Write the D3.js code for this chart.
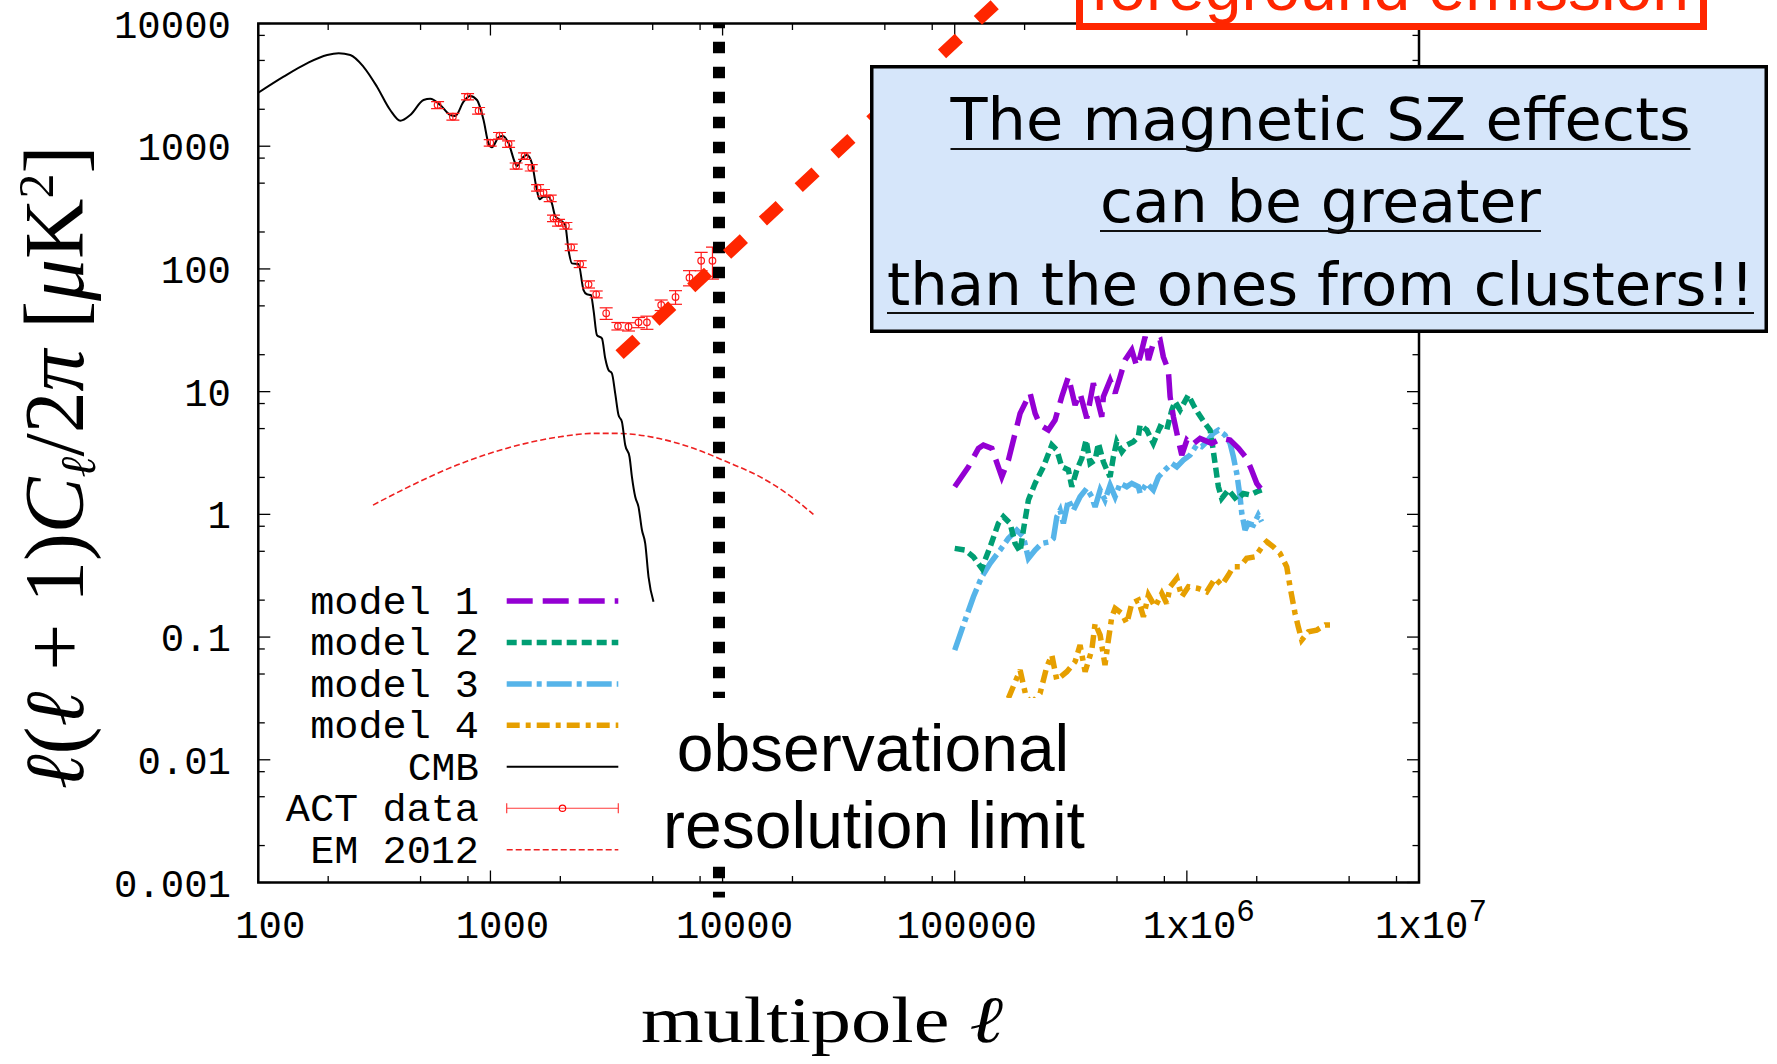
<!DOCTYPE html>
<html>
<head>
<meta charset="utf-8">
<script src="https://cdn.jsdelivr.net/npm/d3@7"></script>
<style>
  html, body { margin: 0; padding: 0; background: #ffffff; }
  svg { display: block; }
</style>
</head>
<body>
<svg id="chart" width="1777" height="1064"></svg>
<script>
// ---- CMB temperature power spectrum (multipole, l(l+1)C_l/2pi in uK^2) ----
const cmbL = [100,128.5,162,198,222,249,284,324.5,370,409,451.5,515,550.6,608,671,705.4,766,818,875,934,981,1015,1084,1132,1197,1279,1300,1367,1436,1509,1575,1627,1693,1780,1840,1901,1998,2099,2169,2244,2395,2518,2604,2709,2780,2875,3022,3122,3226,3336,3447,3562,3684,3807,3972,4069,4204,4344,4494,4642,4797,5040];
const cmbV = [2730,3690,4740,5540,5720,5540,4440,3055,1973,1613,1796,2380,2438,2166,1796,1763,2305,2566,2380,1636,1056,979,1182,1211,1056,726,690,797,848,726,468,369,388,388,342,270,250,228,142.6,111,109.6,67.3,62.1,61.3,46.2,28.9,27.2,18.7,15.0,14.1,9.69,6.45,5.69,3.67,2.95,2.02,1.39,1.15,0.745,0.58,0.31,0.194];

// ---- ACT band powers with 1-sigma errors ----
const actL = [592,689,797,889,998,1094,1197,1291,1403,1499,1596,1693,1809,1869,1965,2114,2228,2436,2646,2855,3152,3540,3933,4344,4721,5440,6270,7201,8087,9046];
const actV = [2166,1740,2532,1947,1068,1218,1042,690,832,668,459,418,376,258.5,238,225,150,109.6,74.9,62.1,43.5,34.2,33.8,36.7,36.7,50.8,59.0,84.8,116.6,116.6];
const actE = [140,110,150,120,65,75,65,40,50,40,28,26,23,16,15,14,9,7,5,4,4.7,2.4,2.6,3.5,4.5,5,7.5,12,20,34];

// ---- EM 2012 ----
const emL = [312,451.5,717,1217,1998,2780,3505,5040,7494,10430,14520,18920,24630];
const emV = [1.19,1.70,2.52,3.52,4.29,4.57,4.57,4.24,3.45,2.68,2.02,1.48,1.0];

// ---- magnetic SZ models ----
const m1L = [1.00e5,1.146e5,1.265e5,1.329e5,1.445e5,1.595e5,1.703e5,1.913e5,2.112e5,2.220e5,2.332e5,2.532e5,2.706e5,2.892e5,3.088e5,3.300e5,3.467e5,3.706e5,3.956e5,4.300e5,4.369e5,4.670e5,4.907e5,5.157e5,5.42e5,5.79e5,6.085e5,6.29e5,6.61e5,6.83e5,7.17e5,7.67e5,7.92e5,8.32e5,8.47e5,8.75e5,9.19e5,9.51e5,1.00e6,1.05e6,1.14e6,1.28e6,1.41e6,1.535e6,1.67e6,1.81e6,1.90e6,2.00e6,2.10e6];
const m1V = [1.68,2.44,3.45,3.67,3.45,2.02,2.77,6.65,9.7,6.65,5.35,4.86,5.87,9.09,13.2,7.78,9.7,6.06,11.7,6.24,9.09,12.4,9.7,13.2,18.1,21.8,16.0,19.2,28.0,18.1,24.8,26.3,19.2,15.0,9.09,6.24,4.03,3.04,4.03,3.67,4.16,3.79,4.16,4.03,3.45,2.86,2.30,1.79,1.58];

const m2L = [1.00e5,1.109e5,1.204e5,1.308e5,1.421e5,1.542e5,1.621e5,1.732e5,1.820e5,1.913e5,1.976e5,2.077e5,2.220e5,2.410e5,2.62e5,2.753e5,2.892e5,3.088e5,3.194e5,3.356e5,3.527e5,3.681e5,3.83e5,4.025e5,4.16e5,4.37e5,4.52e5,4.67e5,4.825e5,4.99e5,5.245e5,5.51e5,5.885e5,6.18e5,6.29e5,6.72e5,7.17e5,7.67e5,8.19e5,8.61e5,8.895e5,9.35e5,1.015e6,1.067e6,1.12e6,1.198e6,1.259e6,1.28e6,1.323e6,1.367e6,1.413e6,1.51e6,1.64e6,1.751e6,1.872e6,2.00e6,2.10e6];
const m2V = [0.528,0.512,0.451,0.363,0.544,0.845,0.956,0.845,0.580,0.496,0.745,1.31,1.79,2.44,3.67,3.34,2.44,2.30,1.68,2.30,2.86,4.03,2.60,2.77,3.79,2.68,2.30,2.02,2.95,3.91,3.24,3.67,3.91,4.29,5.35,4.86,3.79,5.18,4.86,7.08,8.27,7.08,9.38,7.78,6.65,5.51,4.86,4.03,2.60,1.68,1.35,1.58,1.31,1.48,1.44,1.53,1.58];

const m3L = [1.00e5,1.109e5,1.204e5,1.308e5,1.421e5,1.569e5,1.703e5,1.851e5,1.976e5,2.077e5,2.220e5,2.372e5,2.575e5,2.661e5,2.753e5,2.844e5,2.938e5,3.088e5,3.245e5,3.467e5,3.706e5,3.895e5,4.025e5,4.23e5,4.44e5,4.67e5,4.907e5,5.157e5,5.51e5,5.79e5,6.18e5,6.29e5,6.72e5,7.17e5,7.54e5,8.05e5,8.61e5,9.05e5,9.66e5,1.032e6,1.103e6,1.159e6,1.218e6,1.30e6,1.367e6,1.46e6,1.535e6,1.586e6,1.64e6,1.695e6,1.724e6,1.781e6,1.84e6,1.934e6,2.03e6,2.10e6];
const m3V = [0.0784,0.1376,0.213,0.310,0.399,0.512,0.637,0.745,0.657,0.438,0.512,0.580,0.598,0.637,0.956,1.08,0.845,1.31,1.08,1.39,1.63,1.39,1.15,1.58,1.31,1.73,1.39,1.79,1.68,1.79,1.68,1.48,1.79,1.58,2.02,2.30,2.60,2.44,2.77,3.04,3.67,3.56,3.91,4.57,4.86,4.43,3.79,2.95,2.16,1.39,1.02,0.745,0.845,0.818,0.987,0.87];

const m4L = [1.703e5,1.913e5,2.03e5,2.148e5,2.332e5,2.493e5,2.62e5,2.753e5,3.04e5,3.30e5,3.467e5,3.645e5,3.895e5,4.025e5,4.23e5,4.44e5,4.59e5,4.75e5,4.907e5,5.245e5,5.51e5,5.79e5,6.18e5,6.50e5,6.83e5,7.30e5,7.80e5,8.19e5,8.47e5,9.05e5,9.51e5,1.015e6,1.12e6,1.218e6,1.323e6,1.413e6,1.51e6,1.586e6,1.695e6,1.81e6,1.966e6,2.136e6,2.208e6,2.358e6,2.52e6,2.693e6,2.783e6,2.924e6,3.02e6,3.125e6,3.337e6,3.626e6,3.937e6,4.275e6];
const m4V = [0.0317,0.0538,0.0326,0.029,0.0348,0.0573,0.0713,0.0446,0.0522,0.0629,0.086,0.0522,0.0784,0.1293,0.1038,0.0591,0.0945,0.1463,0.1713,0.156,0.1293,0.188,0.2002,0.1463,0.220,0.1766,0.227,0.188,0.257,0.301,0.213,0.257,0.249,0.234,0.301,0.265,0.320,0.374,0.374,0.438,0.451,0.562,0.598,0.544,0.481,0.374,0.257,0.156,0.1213,0.0945,0.1105,0.114,0.1253,0.1253];

// ---- foreground emission power law and resolution limit ----
const fgL = [3600, 200000];
const fgV = [20, 24000];
const resolutionL = 9650;

// ---- axes and annotations ----
const xTickValues = [100, 1000, 1e4, 1e5, 1e6, 1e7];
const xTickLabels = [["100"], ["1000"], ["10000"], ["100000"], ["1x10", "6"], ["1x10", "7"]];
const yTickValues = [0.001, 0.01, 0.1, 1, 10, 100, 1000, 10000];
const yTickLabels = ["0.001", "0.01", "0.1", "1", "10", "100", "1000", "10000"];
const minorMultipliers = [2, 5, 8];
const legendNames = ["model 1", "model 2", "model 3", "model 4", "CMB", "ACT data", "EM 2012"];
const noteLines = ["The magnetic SZ effects", "can be greater", "than the ones from clusters!!"];
const limitLines = ["observational", "resolution limit"];
const foregroundTitle = "foreground emission";

// ================= drawing =================
const svg = d3.select("#chart");
const P = { left: 258.3, right: 1419, top: 23.5, bottom: 882.5 };
const x = d3.scaleLog().domain([100, 1e7]).range([P.left, P.right]);
const y = d3.scaleLog().domain([0.001, 1e4]).range([P.bottom, P.top]);

const zip = (a, b) => a.map((v, i) => [v, b[i]]);

svg.append("rect").attr("width", 1777).attr("height", 1064).attr("fill", "#fff");

svg.append("defs").append("clipPath").attr("id", "plotclip")
  .append("rect").attr("x", P.left).attr("y", P.top)
  .attr("width", P.right - P.left).attr("height", P.bottom - P.top);

// minor tick positions at 2, 5, 8 of each decade
const minorX = [], minorY = [];
for (let d = 100; d < 1e7; d *= 10) minorMultipliers.forEach(m => minorX.push(d * m));
for (let d = 0.001; d < 1e4 * 0.99; d *= 10) minorMultipliers.forEach(m => minorY.push(d * m));

const monoFont = "'Liberation Mono', 'DejaVu Sans Mono', monospace";

// tick marks on all four sides, pointing inward
const tickG = svg.append("g").attr("stroke", "#000").attr("stroke-width", 1.3);
const majLen = 12, minLen = 6.5;
function xTicks(vals, len) {
  vals.forEach(v => {
    const px = x(v);
    tickG.append("line").attr("x1", px).attr("x2", px).attr("y1", P.bottom).attr("y2", P.bottom - len);
    tickG.append("line").attr("x1", px).attr("x2", px).attr("y1", P.top).attr("y2", P.top + len);
  });
}
function yTicks(vals, len) {
  vals.forEach(v => {
    const py = y(v);
    tickG.append("line").attr("x1", P.left).attr("x2", P.left + len).attr("y1", py).attr("y2", py);
    tickG.append("line").attr("x1", P.right).attr("x2", P.right - len).attr("y1", py).attr("y2", py);
  });
}
xTicks(xTickValues, majLen); xTicks(minorX, minLen);
yTicks(yTickValues, majLen); yTicks(minorY, minLen);

// tick labels
const xLab = svg.append("g").attr("font-family", monoFont).attr("font-size", 39).attr("fill", "#000");
xTickValues.forEach((v, i) => {
  const t = xLab.append("text").attr("x", x(v) + 12).attr("y", 938).attr("text-anchor", "middle");
  t.append("tspan").text(xTickLabels[i][0]);
  if (xTickLabels[i][1]) t.append("tspan").attr("dy", -17).attr("font-size", 31).text(xTickLabels[i][1]);
});
const yLab = svg.append("g").attr("font-family", monoFont).attr("font-size", 39).attr("fill", "#000");
yTickValues.forEach((v, i) => {
  yLab.append("text").attr("x", 231).attr("y", y(v) + 14).attr("text-anchor", "end").text(yTickLabels[i]);
});

// data layer
const plot = svg.append("g").attr("clip-path", "url(#plotclip)");
const line = d3.line().x(d => x(d[0])).y(d => y(d[1]));
const smooth = d3.line().x(d => x(d[0])).y(d => y(d[1])).curve(d3.curveMonotoneX);

const styles = {
  m1: { color: "#9400d3", dash: "26,10", width: 5.5 },
  m2: { color: "#009e73", dash: "10,5", width: 5.5 },
  m3: { color: "#56b4e9", dash: "25,5,5,5", width: 5.5 },
  m4: { color: "#e69f00", dash: "13,6,5,6", width: 5.5 },
  cmb: { color: "#000000", dash: null, width: 2 },
  em: { color: "#ee2020", dash: "6,3", width: 1.6 }
};

plot.append("path").datum(zip(emL, emV)).attr("d", smooth)
  .attr("fill", "none").attr("stroke", styles.em.color).attr("stroke-width", styles.em.width)
  .attr("stroke-dasharray", styles.em.dash);

plot.append("path").datum(zip(cmbL, cmbV)).attr("d", smooth)
  .attr("fill", "none").attr("stroke", styles.cmb.color).attr("stroke-width", styles.cmb.width);

// ACT points with vertical error bars
const act = plot.append("g").attr("stroke", "#ff1a1a").attr("fill", "none").attr("stroke-width", 1.2);
actL.forEach((l, i) => {
  const px = x(l), lo = y(actV[i] - actE[i]), hi = y(actV[i] + actE[i]);
  act.append("line").attr("x1", px).attr("x2", px).attr("y1", lo).attr("y2", hi);
  act.append("line").attr("x1", px - 6.5).attr("x2", px + 6.5).attr("y1", lo).attr("y2", lo);
  act.append("line").attr("x1", px - 6.5).attr("x2", px + 6.5).attr("y1", hi).attr("y2", hi);
  act.append("circle").attr("cx", px).attr("cy", y(actV[i])).attr("r", 3.3);
});

[[m4L, m4V, styles.m4], [m3L, m3V, styles.m3], [m2L, m2V, styles.m2], [m1L, m1V, styles.m1]].forEach(([L, V, s]) => {
  plot.append("path").datum(zip(L, V)).attr("d", line)
    .attr("fill", "none").attr("stroke", s.color).attr("stroke-width", s.width)
    .attr("stroke-dasharray", s.dash).attr("stroke-linejoin", "miter").attr("stroke-miterlimit", 3);
});

// frame
svg.append("rect").attr("x", P.left).attr("y", P.top)
  .attr("width", P.right - P.left).attr("height", P.bottom - P.top)
  .attr("fill", "none").attr("stroke", "#000").attr("stroke-width", 2.5);

// legend
const leg = svg.append("g");
const legStyles = [styles.m1, styles.m2, styles.m3, styles.m4, styles.cmb, null, styles.em];
legendNames.forEach((name, i) => {
  const base = 614 + 41.45 * i;
  const ly = base - 13;
  leg.append("text").attr("x", 479).attr("y", base).attr("text-anchor", "end")
    .attr("font-family", monoFont).attr("font-size", 38).attr("fill", "#000")
    .attr("textLength", name.length * 24.4 - 2).attr("lengthAdjust", "spacingAndGlyphs").text(name);
  const s = legStyles[i];
  if (s) {
    leg.append("line").attr("x1", 506.7).attr("x2", 618.3).attr("y1", ly).attr("y2", ly)
      .attr("stroke", s.color).attr("stroke-width", s.width).attr("stroke-dasharray", s.dash);
  } else {
    const g = leg.append("g").attr("stroke", "#ff3b3b").attr("stroke-width", 1.2).attr("fill", "none");
    g.append("line").attr("x1", 506.7).attr("x2", 618.3).attr("y1", ly).attr("y2", ly);
    g.append("line").attr("x1", 506.7).attr("x2", 506.7).attr("y1", ly - 5).attr("y2", ly + 5);
    g.append("line").attr("x1", 618.3).attr("x2", 618.3).attr("y1", ly - 5).attr("y2", ly + 5);
    g.append("circle").attr("cx", 562.5).attr("cy", ly).attr("r", 3.2).attr("stroke", "#ff0000");
  }
});

// axis titles
const serif = "'Liberation Serif', 'DejaVu Serif', serif";
svg.append("text").attr("x", 822).attr("y", 1042).attr("text-anchor", "middle")
  .attr("font-family", serif).attr("font-size", 66).attr("fill", "#000")
  .attr("textLength", 362).attr("lengthAdjust", "spacingAndGlyphs")
  .call(t => { t.append("tspan").text("multipole "); t.append("tspan").attr("font-style", "italic").text("ℓ"); });

const yTitle = svg.append("text").attr("transform", "translate(82.5,467.5) rotate(-90)")
  .attr("text-anchor", "middle").attr("font-family", serif).attr("font-size", 72).attr("fill", "#000");
(function buildYTitle(t) {
  const it = s => t.append("tspan").attr("font-style", "italic").text(s);
  const rm = s => t.append("tspan").text(s);
  it("ℓ"); rm("("); it("ℓ"); rm(" + 1)"); it("C");
  t.append("tspan").attr("font-style", "italic").attr("font-size", 50).attr("dy", 12).text("ℓ");
  t.append("tspan").attr("dy", -12).text("/2");
  it("π"); rm("  ["); it("μ"); rm("K");
  t.append("tspan").attr("font-size", 50).attr("dy", -30).text("2");
  t.append("tspan").attr("dy", 30).text("]");
})(yTitle);
{
  const w = yTitle.node().getComputedTextLength();
  if (w > 0) yTitle.attr("font-size", 72 * 651 / w);
}

// resolution limit (dotted vertical)
svg.append("line").attr("x1", x(resolutionL)).attr("x2", x(resolutionL))
  .attr("y1", y(1e4)).attr("y2", y(0.001) + 15)
  .attr("stroke", "#000").attr("stroke-width", 12)
  .attr("stroke-dasharray", "11.6,13.4").attr("stroke-dashoffset", 6.8);

// foreground emission power law
svg.append("path").datum(zip(fgL, fgV)).attr("d", line)
  .attr("fill", "none").attr("stroke", "#ff2600").attr("stroke-width", 12)
  .attr("stroke-dasharray", "23,26");

// label for resolution limit on a white card
svg.append("rect").attr("x", 655).attr("y", 698).attr("width", 440).attr("height", 168).attr("fill", "#fff");
const lim = svg.append("g").attr("font-family", "'Liberation Sans', Arial, sans-serif")
  .attr("font-size", 66).attr("fill", "#000").attr("text-anchor", "middle");
lim.append("text").attr("x", 873).attr("y", 771).text(limitLines[0]);
lim.append("text").attr("x", 874).attr("y", 848).text(limitLines[1]);

// highlighted note
svg.append("rect").attr("x", 871.75).attr("y", 66.75).attr("width", 894.5).attr("height", 264.5)
  .attr("fill", "#d6e6fa").attr("stroke", "#000").attr("stroke-width", 3.5);
const noteBase = [140, 222, 305];
const noteLen = [740, 441, 867];
const noteUnder = [149, 231, 313];
noteLines.forEach((s, i) => {
  svg.append("text").attr("x", 1320.5).attr("y", noteBase[i]).attr("text-anchor", "middle")
    .attr("font-family", "'DejaVu Sans', sans-serif").attr("font-size", 59).attr("fill", "#000")
    .attr("textLength", noteLen[i]).attr("lengthAdjust", "spacingAndGlyphs").text(s);
  svg.append("line").attr("x1", 1320.5 - noteLen[i] / 2).attr("x2", 1320.5 + noteLen[i] / 2)
    .attr("y1", noteUnder[i]).attr("y2", noteUnder[i]).attr("stroke", "#111").attr("stroke-width", 2);
});

// foreground emission box
svg.append("rect").attr("x", 1079.5).attr("y", -120).attr("width", 624).attr("height", 146.5)
  .attr("fill", "#fff").attr("stroke", "#ff2600").attr("stroke-width", 7);
svg.append("text").attr("x", 1390).attr("y", 10).attr("text-anchor", "middle")
  .attr("font-family", "'Liberation Sans', Arial, sans-serif").attr("font-size", 66)
  .attr("fill", "#ff2600").text(foregroundTitle);
</script>
</body>
</html>
